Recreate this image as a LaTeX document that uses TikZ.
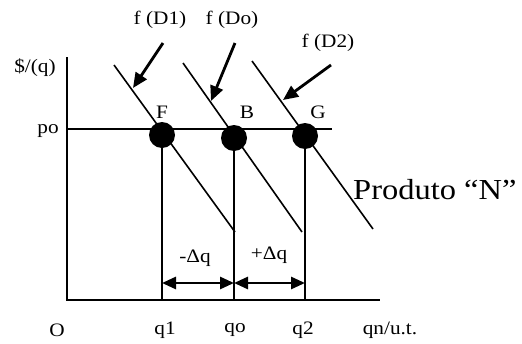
\documentclass[tikz,border=0pt]{standalone}
\usepackage{fontspec}
\setmainfont{Liberation Serif}
\usetikzlibrary{arrows.meta}
\newcommand\hstretch[1]{\scalebox{1.12}[1]{#1}}
\begin{document}
\begin{tikzpicture}[x=1pt,y=-1pt,
  lbl/.style={inner sep=0pt, font=\fontsize{19}{19}\selectfont},
  biglbl/.style={inner sep=0pt, anchor=west, font=\fontsize{29}{29}\selectfont},
  curve/.style={line width=1.6pt},
  axis/.style={line width=1.8pt},
  dot/.style={circle, fill=black, minimum size=26pt, inner sep=0pt},
  pointer/.style={line width=2.8pt, -{Triangle[length=15pt,width=13pt]}},
  dim/.style={line width=2.8pt, {Triangle[length=14pt,width=12pt]}-{Triangle[length=14pt,width=12pt]}}]
\useasboundingbox (0,0) rectangle (522,343);
% axes
\coordinate (ytop) at (67,57);
\coordinate (orig) at (67,300);
\coordinate (xend) at (380,300);
\draw[axis] (ytop) -- (orig) -- (xend);
% price line
\coordinate (p0a) at (67,129);
\coordinate (p0b) at (332,129);
\draw[curve] (p0a) -- (p0b);
% demand curves
\coordinate (d1a) at (114,65);  \coordinate (d1b) at (235,232);
\coordinate (d0a) at (183,63);  \coordinate (d0b) at (302,232);
\coordinate (d2a) at (252,61);  \coordinate (d2b) at (373,229);
\draw[curve] (d1a) -- (d1b);
\draw[curve] (d0a) -- (d0b);
\draw[curve] (d2a) -- (d2b);
% equilibrium points
\node[dot] (F) at (162,135) {};
\node[dot] (B) at (234,138) {};
\node[dot] (G) at (305,136) {};
\coordinate (q1b) at (162,300);
\coordinate (q0b) at (234,300);
\coordinate (q2b) at (305,300);
\draw[curve] (F.center) -- (q1b);
\draw[curve] (B.center) -- (q0b);
\draw[curve] (G.center) -- (q2b);
% dimension arrows
\coordinate (m1) at (162,283);
\coordinate (m0) at (234,283);
\coordinate (m2) at (305,283);
\draw[dim] (m1) -- (m0);
\draw[dim] (m0) -- (m2);
% pointer arrows
\coordinate (a1s) at (163,43); \coordinate (a1e) at (133,88);
\coordinate (a0s) at (235,43); \coordinate (a0e) at (211,101);
\coordinate (a2s) at (331,65); \coordinate (a2e) at (283,100);
\draw[pointer] (a1s) -- (a1e);
\draw[pointer] (a0s) -- (a0e);
\draw[pointer] (a2s) -- (a2e);
% labels
\node[lbl] (lD1) at (160,20) {\hstretch{f (D1)}};
\node[lbl] (lD0) at (232,20) {\hstretch{f (Do)}};
\node[lbl] (lD2) at (328,43) {\hstretch{f (D2)}};
\node[lbl] (lpq) at (35,68) {\hstretch{\$/(q)}};
\node[lbl] (lpo) at (48,131) {\hstretch{po}};
\node[lbl] (lF) at (162,112) {\hstretch{F}};
\node[lbl] (lB) at (247,112) {\hstretch{B}};
\node[lbl] (lG) at (318,112) {\hstretch{G}};
\node[biglbl] (lN) at (353,190) {\hstretch{Produto “N”}};
\node[lbl] (lO) at (57,330) {\hstretch{O}};
\node[lbl] (lq1) at (165,330) {\hstretch{q1}};
\node[lbl] (lq0) at (235,330) {\hstretch{qo}};
\node[lbl] (lq2) at (303,330) {\hstretch{q2}};
\node[lbl] (lqn) at (390,330) {\hstretch{qn/u.t.}};
\node[lbl] (ldm) at (195,258) {\hstretch{-Δq}};
\node[lbl] (ldp) at (269,255) {\hstretch{+Δq}};
\end{tikzpicture}
\end{document}
